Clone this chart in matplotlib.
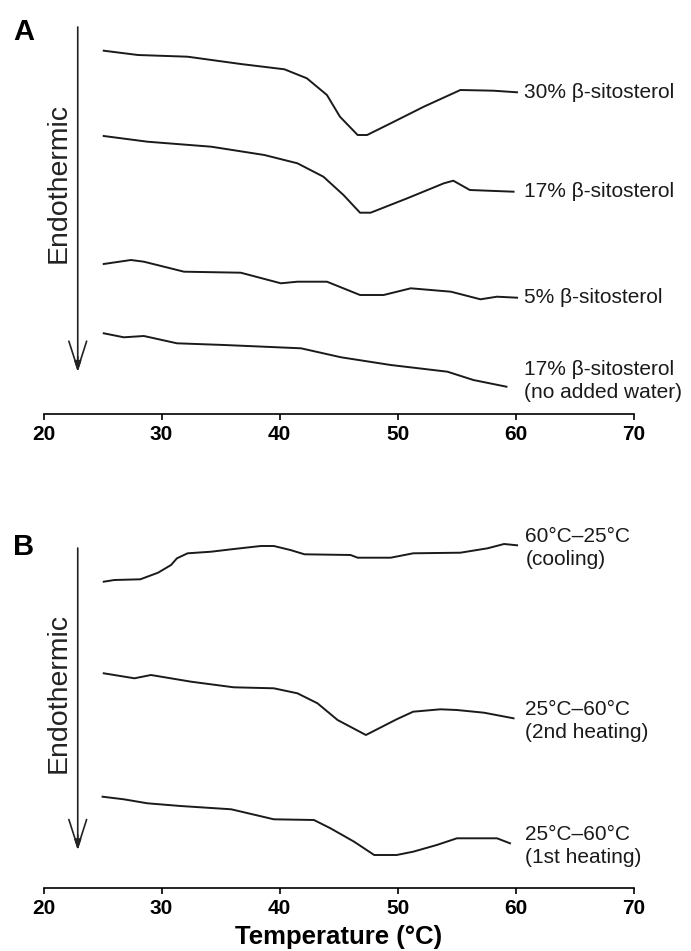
import matplotlib.pyplot as plt

plt.rcParams['font.family'] = ['Liberation Sans', 'DejaVu Sans']

# ---------------------------------------------------------
# Datos (unidades arbitrarias de flujo de calor)
# ---------------------------------------------------------
# Panel A
t_30 = [25.1, 28.0, 32.2, 36.7, 40.4, 42.3, 44.0, 45.1, 46.6, 47.4, 49.4, 52.2, 55.3, 58.1, 60.1]
y_30 = [36.33, 35.9, 35.73, 35.0, 34.47, 33.57, 31.9, 29.73, 27.9, 27.9, 29.07, 30.73, 32.4, 32.33, 32.17]

t_17 = [25.1, 28.8, 34.2, 38.7, 41.5, 43.7, 45.4, 46.8, 47.7, 50.8, 53.9, 54.7, 56.1, 59.8]
y_17 = [27.8, 27.23, 26.73, 25.9, 25.07, 23.73, 21.9, 20.13, 20.13, 21.57, 23.07, 23.33, 22.4, 22.23]

t_5 = [25.1, 27.4, 28.5, 31.9, 36.7, 40.1, 41.5, 44.0, 46.8, 48.8, 51.1, 54.5, 57.0, 58.4, 60.1]
y_5 = [15.0, 15.4, 15.23, 14.23, 14.13, 13.07, 13.23, 13.23, 11.9, 11.9, 12.57, 12.23, 11.47, 11.73, 11.63]

t_17dry = [25.1, 26.8, 28.5, 31.3, 35.3, 41.8, 45.2, 49.4, 54.2, 56.4, 59.2]
y_17dry = [8.07, 7.67, 7.8, 7.07, 6.9, 6.57, 5.67, 4.9, 4.23, 3.4, 2.73]

labels_a = ["30% β-sitosterol", "17% β-sitosterol", "5% β-sitosterol",
            "17% β-sitosterol\n(no added water)"]

# Panel B
t_cool = [25.1, 26.0, 28.2, 29.7, 30.8, 31.3, 32.2, 34.2, 35.9, 38.4, 39.5, 40.9,
          42.1, 46.0, 46.6, 49.4, 51.3, 55.3, 57.6, 59.0, 60.1]
y_cool = [30.63, 30.8, 30.87, 31.53, 32.3, 32.97, 33.47, 33.63, 33.87, 34.2, 34.2, 33.8,
          33.37, 33.3, 33.03, 33.03, 33.47, 33.53, 33.97, 34.4, 34.27]

t_heat2 = [25.1, 27.7, 29.1, 32.5, 36.1, 39.5, 41.5, 43.2, 44.9, 47.3, 49.9, 51.3, 53.6, 55.0, 57.3, 59.8]
y_heat2 = [21.47, 20.97, 21.3, 20.63, 20.07, 19.97, 19.47, 18.47, 16.8, 15.3, 16.87, 17.63,
           17.87, 17.8, 17.53, 16.97]

t_heat1 = [25.0, 26.8, 28.8, 31.6, 35.9, 39.5, 42.9, 44.3, 46.3, 48.0, 49.9, 51.3, 53.3, 55.0, 58.4, 59.5]
y_heat1 = [9.13, 8.87, 8.47, 8.2, 7.87, 6.87, 6.8, 5.97, 4.63, 3.3, 3.3, 3.63, 4.3, 4.97, 4.97, 4.47]

labels_b = ["60°C–25°C\n(cooling)", "25°C–60°C\n(2nd heating)", "25°C–60°C\n(1st heating)"]

x_ticks = [20, 30, 40, 50, 60, 70]

# ---------------------------------------------------------
# Figura
# ---------------------------------------------------------
fig = plt.figure(figsize=(6.91, 9.51), dpi=100)
left = 43.5 / 691
width = (634 - 43.5) / 691

ax_a = fig.add_axes([left, (951 - 414) / 951, width, 387 / 951])
ax_b = fig.add_axes([left, (951 - 888) / 951, width, 340 / 951])


def style_axis(ax, ytop):
    ax.set_xlim(20, 70)
    ax.set_ylim(0, ytop)
    for s in ["left", "right", "top"]:
        ax.spines[s].set_visible(False)
    ax.spines["bottom"].set_linewidth(1.2)
    ax.set_yticks([])
    ax.set_xticks(x_ticks)
    ax.tick_params(axis="x", direction="out", length=4, width=1.2, pad=4, labelsize=15)
    for lab in ax.get_xticklabels():
        lab.set_fontweight("bold")
    ax.patch.set_alpha(0)


def endo_arrow(ax, ytop, ytip, ylab):
    ax.annotate("", xy=(22.9, ytip), xytext=(22.9, ytop),
                arrowprops=dict(arrowstyle="->, head_length=1.0, head_width=0.32",
                                mutation_scale=20, lw=1.2, color="#222222",
                                shrinkA=0, shrinkB=0), annotation_clip=False)
    ax.annotate("", xy=(22.9, ytip), xytext=(22.9, ytip + 1.5),
                arrowprops=dict(arrowstyle="-|>, head_length=0.6, head_width=0.2",
                                mutation_scale=10, lw=1.2, color="#222222",
                                shrinkA=0, shrinkB=0), annotation_clip=False)
    ax.text(21.25, ylab, "Endothermic", rotation=90, ha="center", va="center",
            fontsize=20.5, color="#222222")


style_axis(ax_a, 38.7)
style_axis(ax_b, 34.0)

line_kw = dict(color="#1a1a1a", lw=1.4, clip_on=False)

for t, y, lab in zip([t_30, t_17, t_5, t_17dry], [y_30, y_17, y_5, y_17dry], labels_a):
    ax_a.plot(t, y, **line_kw)
    ylab = y[-1] if "\n" not in lab else y[-1] + 0.6
    ax_a.text(60.7, ylab, lab, ha="left", va="center", fontsize=15,
              linespacing=1.25, color="#1a1a1a")

for t, y, lab in zip([t_cool, t_heat2, t_heat1], [y_cool, y_heat2, y_heat1], labels_b):
    ax_b.plot(t, y, **line_kw)
    ax_b.text(60.8, y[-1] - 0.3, lab, ha="left", va="center", fontsize=15,
              linespacing=1.25, color="#1a1a1a")

endo_arrow(ax_a, 38.7, 4.23, 23.1)
endo_arrow(ax_b, 34.0, 3.8, 19.5)

ax_b.set_xlabel("Temperature (°C)", fontsize=18.5, fontweight="bold", labelpad=5)

fig.text(24 / 691, 1 - 32 / 951, "A", fontsize=21, fontweight="bold", ha="center", va="center")
fig.text(24 / 691, 1 - 547 / 951, "B", fontsize=21, fontweight="bold", ha="center", va="center")

plt.savefig("out.png", dpi=100)
plt.close(fig)
